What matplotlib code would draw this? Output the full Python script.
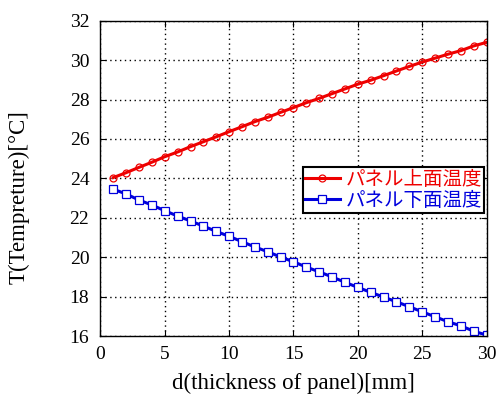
import matplotlib.pyplot as plt

# thickness of panel [mm]
d = list(range(1, 31))

# top surface temperature (red)
t_top = [24.04, 24.29, 24.56, 24.82, 25.10, 25.34, 25.61, 25.86, 26.11, 26.37,
         26.62, 26.88, 27.10, 27.35, 27.59, 27.84, 28.06, 28.30, 28.54, 28.78,
         28.98, 29.21, 29.45, 29.68, 29.90, 30.10, 30.30, 30.48, 30.72, 30.90]

# bottom surface temperature (blue)
t_bottom = [23.45, 23.21, 22.90, 22.65, 22.36, 22.09, 21.84, 21.58, 21.31, 21.06,
            20.79, 20.52, 20.28, 20.01, 19.77, 19.50, 19.26, 19.00, 18.73, 18.47,
            18.22, 17.98, 17.74, 17.49, 17.23, 16.98, 16.73, 16.52, 16.25, 16.05]

labels = ['パネル上面温度', 'パネル下面温度']

serif = ['Liberation Serif', 'DejaVu Serif']

fig = plt.figure(figsize=(4.97, 3.94), dpi=100)
ax = fig.add_axes([0.202, 0.147, 0.777, 0.8005])

ax.plot(d, t_top, color='#ee0000', lw=2.2, marker='o', ms=5,
        mfc='none', mew=0.9, label=labels[0])
ax.plot(d, t_bottom, color='#0000dd', lw=2.2, marker='s', ms=5.5,
        mfc='white', mew=0.9, label=labels[1])

ax.set_xlim(0, 30)
ax.set_ylim(16, 32)
ax.set_xticks(range(0, 31, 5))
ax.set_yticks(range(16, 33, 2))
ax.grid(True, color='black', linestyle=(0, (1, 2.5)), linewidth=1.0)
ax.tick_params(direction='in', top=True, right=True, length=4, labelsize=14)
ax.tick_params(axis='x', pad=7)
ax.tick_params(axis='y', pad=8)
for lab in ax.get_xticklabels() + ax.get_yticklabels():
    lab.set_family(serif)
for s in ax.spines.values():
    s.set_linewidth(1.0)

ax.set_xlabel('d(thickness of panel)[mm]', family=serif, fontsize=16.5, va='center')
ax.set_ylabel('T(Tempreture)[°C]', family=serif, fontsize=16.5, va='center')
ax.xaxis.set_label_coords(0.5, -0.149)
ax.yaxis.set_label_coords(-0.21, 0.44)

leg = ax.legend(loc='upper right', bbox_to_anchor=(0.993, 0.536),
                prop={'family': ['Noto Sans CJK JP', 'DejaVu Sans'], 'size': 14},
                fancybox=False, frameon=True, edgecolor='black', framealpha=1,
                handlelength=1.8, handletextpad=0.3, borderpad=0.1, labelspacing=0.0,
                borderaxespad=0)
leg.get_frame().set_linewidth(1.5)
for txt, c in zip(leg.get_texts(), ['#ee0000', '#0000dd']):
    txt.set_color(c)

fig.savefig('out.png', dpi=100)
